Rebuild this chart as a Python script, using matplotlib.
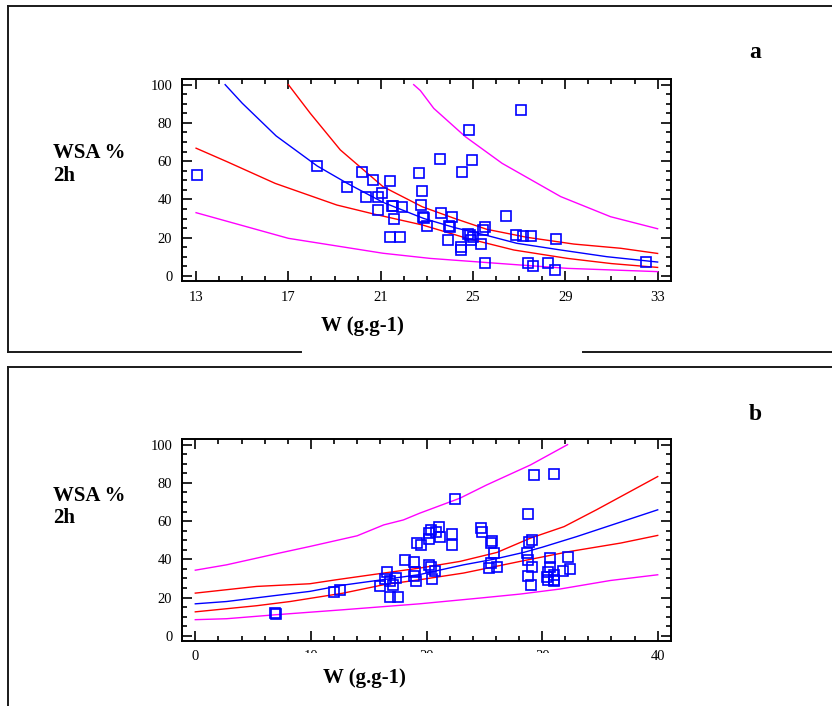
import numpy as np
import matplotlib
matplotlib.use('Agg')
import matplotlib.pyplot as plt
from matplotlib.lines import Line2D
from matplotlib.patches import Rectangle
from matplotlib.ticker import MultipleLocator

plt.rcParams['font.family'] = 'Liberation Serif'

# ============================================================
# Data (panel a)
# ============================================================
a_x = [13.03, 18.25, 19.55, 20.19, 20.36, 20.65, 20.87, 21.04, 20.88, 21.39,
       21.40, 21.83, 21.50, 21.55, 21.58, 21.92, 22.67, 22.80, 22.75, 22.84,
       22.88, 23.00, 23.55, 23.60, 23.90, 23.95, 24.00, 24.10, 24.50, 24.50,
       24.54, 24.83, 24.77, 24.86, 24.98, 24.90, 24.94, 25.35, 25.42, 25.50,
       25.50, 26.45, 26.87, 27.08, 27.17, 27.50, 27.40, 27.60, 28.26, 28.60,
       28.55, 32.50]
a_y = [52.8, 57.7, 46.7, 54.4, 41.3, 50.2, 41.3, 43.2, 34.5, 49.5,
       20.6, 20.6, 36.8, 36.4, 29.8, 36.2, 53.7, 44.5, 37.0, 30.8,
       30.4, 26.3, 61.3, 32.7, 18.6, 26.4, 25.8, 30.8, 15.2, 13.6,
       54.3, 76.1, 22.2, 21.2, 20.2, 19.0, 60.6, 16.5, 24.0, 25.6,
       6.6, 31.2, 21.3, 86.6, 20.9, 20.9, 6.6, 5.2, 6.6, 19.3,
       3.1, 7.3]

a_fit_x = [14.26, 15.0, 16.47, 18.25, 19.54, 21.1, 22.86, 24.2, 25.6, 26.9, 28.8, 30.8, 33.0]
a_fit_y = [100.0, 90.3, 73.2, 57.5, 48.5, 38.5, 30.1, 25.3, 21.2, 17.1, 13.6, 10.1, 7.3]
a_ci_hi_x = [17.0, 17.95, 19.25, 21.1, 22.8, 24.2, 25.6, 27.35, 29.37, 31.4, 33.0]
a_ci_hi_y = [100.0, 85.0, 65.9, 46.7, 36.2, 30.1, 24.4, 20.2, 16.7, 14.5, 11.8]
a_ci_lo_x = [13.0, 14.33, 16.43, 19.1, 20.7, 22.8, 24.74, 26.77, 29.1, 31.0, 33.0]
a_ci_lo_y = [66.8, 59.8, 48.4, 37.1, 32.4, 26.7, 19.7, 13.6, 9.2, 6.5, 4.5]
a_pi_hi_x = [22.43, 22.72, 23.3, 24.67, 26.26, 28.8, 30.96, 33.0]
a_pi_hi_y = [100.0, 96.9, 87.6, 72.8, 58.9, 41.5, 31.0, 24.7]
a_pi_lo_x = [13.0, 17.0, 21.1, 23.15, 27.06, 29.1, 33.0]
a_pi_lo_y = [33.1, 19.7, 11.9, 9.2, 5.75, 4.0, 2.3]

# ============================================================
# Data (panel b)
# ============================================================
b_x = [6.9, 7.0, 12.0, 12.5, 16.0, 16.4, 16.6, 16.8, 17.1, 17.4,
       16.8, 17.5, 18.1, 18.9, 18.9, 19.0, 19.1, 19.2, 19.5, 20.2,
       20.4, 20.8, 21.1, 20.2, 21.2, 20.2, 20.4, 20.7, 20.5, 22.2,
       22.2, 22.5, 24.7, 24.8, 25.7, 25.6, 25.8, 25.6, 25.4, 26.1,
       28.8, 29.3, 31.0, 29.1, 28.9, 28.7, 28.8, 29.1, 28.8, 29.0,
       30.7, 30.7, 30.5, 30.4, 30.5, 31.0, 31.0, 31.0, 31.8, 32.4,
       32.2]
b_y = [12.0, 11.4, 23.0, 23.7, 26.1, 29.6, 33.6, 28.9, 26.7, 30.2,
       20.5, 20.5, 39.7, 38.8, 31.0, 33.6, 28.9, 48.5, 47.6, 54.0,
       55.4, 54.5, 57.1, 50.5, 51.6, 37.1, 35.9, 34.1, 29.8, 53.3,
       47.6, 71.5, 56.3, 54.5, 49.7, 48.5, 43.2, 38.3, 35.4, 36.2,
       63.8, 84.2, 84.7, 50.2, 48.8, 43.2, 39.4, 36.2, 31.0, 26.5,
       40.6, 36.2, 33.6, 30.7, 29.3, 31.9, 29.3, 28.4, 34.1, 35.0,
       41.1]

b_fit_x = [0, 2.7, 7.0, 9.9, 12.8, 16.3, 19.4, 23.2, 25.8, 28.4, 30.0, 33.0, 40]
b_fit_y = [16.7, 17.9, 21.1, 23.2, 26.5, 29.4, 32.0, 37.1, 40.0, 43.6, 46.3, 51.9, 65.9]
b_ci_hi_x = [0, 5.3, 9.9, 12.2, 16.3, 19.4, 22.9, 26.1, 29.0, 31.9, 34.7, 40]
b_ci_hi_y = [22.3, 25.8, 27.2, 29.3, 32.8, 35.4, 38.9, 43.6, 51.1, 57.1, 65.9, 83.3]
b_ci_lo_x = [0, 5.3, 8.2, 12.8, 16.3, 19.4, 23.2, 28.1, 32.4, 36.8, 40]
b_ci_lo_y = [12.5, 15.7, 17.9, 22.3, 26.7, 29.3, 32.8, 38.9, 44.1, 48.5, 52.5]
b_pi_hi_x = [0, 2.7, 5.3, 7.0, 9.9, 14.0, 16.3, 18.0, 19.4, 22.9, 25.2, 29.0, 32.2]
b_pi_hi_y = [34.3, 37.1, 40.6, 42.9, 46.7, 52.3, 58.0, 60.6, 64.1, 72.0, 78.9, 89.4, 100.0]
b_pi_lo_x = [0, 2.7, 7.0, 12.8, 19.4, 24.6, 28.1, 31.5, 35.9, 40]
b_pi_lo_y = [8.4, 8.9, 11.0, 13.6, 16.7, 19.7, 21.8, 24.4, 28.9, 31.9]

Y_TICKS = [0, 20, 40, 60, 80, 100]
A_XTICKS = [13, 17, 21, 25, 29, 33]
B_XTICKS = [0, 10, 20, 30, 40]

# ============================================================
# Layout (pixel positions in the 832x706 canvas)
# ============================================================
W_PX, H_PX = 832, 706
def fx(px): return px / W_PX
def fy(py): return 1 - py / H_PX

BLUE, RED, MAG = '#0000ff', '#ff0000', '#ff00ff'
BORDER = '#1a1a1a'

fig = plt.figure(figsize=(W_PX / 100, H_PX / 100), dpi=100, facecolor='white')

def style_axes(ax, xmaj, xmin_step):
    for sp in ax.spines.values():
        sp.set_linewidth(1.4)
    ax.set_ylim(-2.6, 102.8)
    ax.set_yticks(Y_TICKS)
    ax.yaxis.set_minor_locator(MultipleLocator(5))
    ax.set_xticks(xmaj)
    ax.xaxis.set_minor_locator(MultipleLocator(xmin_step))
    ax.tick_params(which='both', direction='in', top=True, right=True,
                   labelsize=10.5, width=1.2)
    ax.tick_params(which='major', length=7, pad=7)
    ax.tick_params(which='minor', length=3.5)

def draw_panel(ax, px, py, fit, ci_hi, ci_lo, pi_hi, pi_lo):
    ax.plot(*pi_hi, color=MAG, lw=1.0)
    ax.plot(*pi_lo, color=MAG, lw=1.0)
    ax.plot(*ci_hi, color=RED, lw=1.0)
    ax.plot(*ci_lo, color=RED, lw=1.0)
    ax.plot(*fit, color=BLUE, lw=1.0)
    ax.plot(px, py, 's', ms=7, mfc='none', mec=BLUE, mew=1.2, zorder=5)

# panel a
ax_a = fig.add_axes([fx(182), fy(281), (671 - 182) / W_PX, (281 - 79.3) / H_PX])
draw_panel(ax_a, a_x, a_y, (a_fit_x, a_fit_y), (a_ci_hi_x, a_ci_hi_y),
           (a_ci_lo_x, a_ci_lo_y), (a_pi_hi_x, a_pi_hi_y), (a_pi_lo_x, a_pi_lo_y))
ax_a.set_xlim(12.39, 33.58)
style_axes(ax_a, A_XTICKS, 1)

# panel b
ax_b = fig.add_axes([fx(182), fy(640.7), (671 - 182) / W_PX, (640.7 - 439.3) / H_PX])
draw_panel(ax_b, b_x, b_y, (b_fit_x, b_fit_y), (b_ci_hi_x, b_ci_hi_y),
           (b_ci_lo_x, b_ci_lo_y), (b_pi_hi_x, b_pi_hi_y), (b_pi_lo_x, b_pi_lo_y))
ax_b.set_xlim(-1.15, 41.15)
style_axes(ax_b, B_XTICKS, 2)

# frames around the two panels (bottom of a is broken under the x label)
def fline(x0, y0, x1, y1):
    fig.add_artist(Line2D([fx(x0), fx(x1)], [fy(y0), fy(y1)], color=BORDER,
                          lw=1.4, transform=fig.transFigure, zorder=3))
fline(8, 6, 832, 6); fline(8, 6, 8, 352)
fline(8, 352, 301, 352); fline(583, 352, 832, 352)
fline(8, 367, 832, 367); fline(8, 367, 8, 706)

# white box that hides the lower part of the middle tick labels in b
fig.add_artist(Rectangle((fx(301), 0), fx(583) - fx(301), fy(652.5), facecolor='white',
                         edgecolor='none', transform=fig.transFigure, zorder=4))

lab = dict(fontsize=15, fontweight='bold', zorder=6)
for yb1, yb2 in [(158, 181), (501, 523)]:
    fig.text(fx(53), fy(yb1), 'WSA %', ha='left', va='baseline', **lab)
    fig.text(fx(53), fy(yb2), '2h', ha='left', va='baseline', **lab)
fig.text(fx(362), fy(326), 'W (g.g-1)', ha='center', va='center', **lab)
fig.text(fx(364), fy(678), 'W (g.g-1)', ha='center', va='center', **lab)
fig.text(fx(755), fy(58), 'a', ha='center', va='baseline', fontsize=17, fontweight='bold')
fig.text(fx(755), fy(420), 'b', ha='center', va='baseline', fontsize=17, fontweight='bold')

fig.savefig('out.png', dpi=100, facecolor='white')
plt.close(fig)
